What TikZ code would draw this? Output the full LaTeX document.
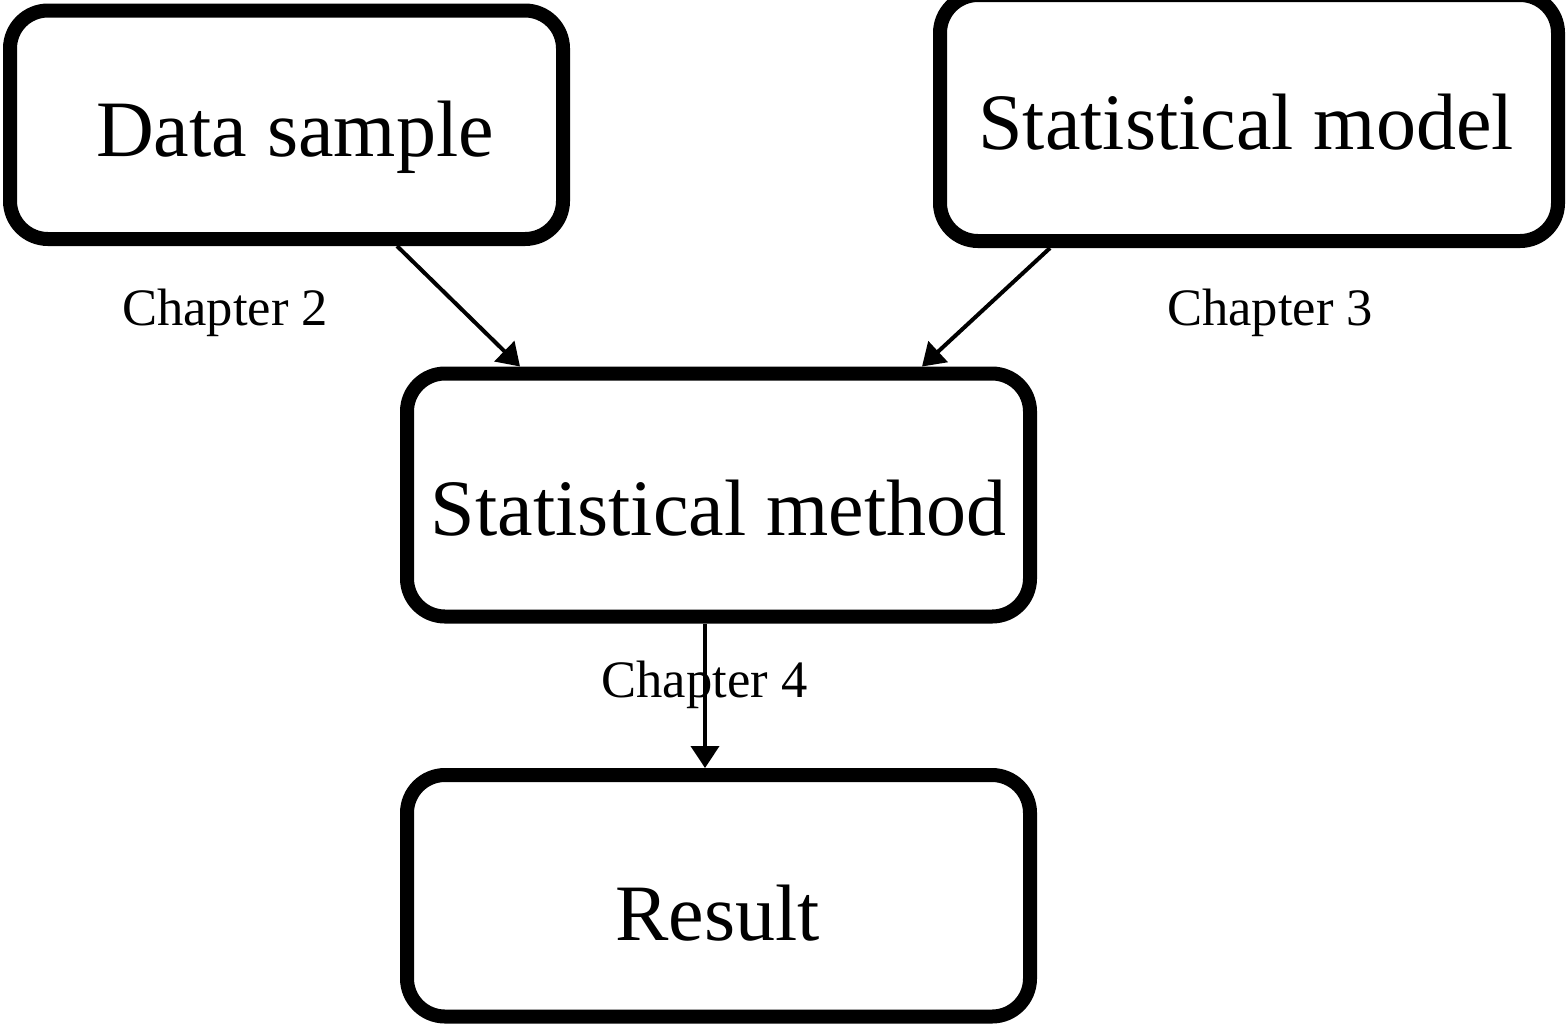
\documentclass[tikz,border=0pt]{standalone}
\usepackage{fontspec}
\setmainfont{Liberation Serif}
\usetikzlibrary{arrows.meta}
\tikzset{
  box/.style={draw=black, line width=7pt, rounded corners=19pt, inner sep=0pt, fill=none},
  bigtext/.style={anchor=base, inner sep=0pt, font=\fontsize{40}{40}\selectfont},
  chaptext/.style={anchor=base, inner sep=0pt, font=\fontsize{26.3}{26.3}\selectfont},
  arr/.style={-{Triangle[length=11pt,width=14pt]}, line width=2pt, shorten >=0pt}
}
\begin{document}
\begin{tikzpicture}[x=0.5pt,y=-0.5pt]
\clip (0,0) rectangle (1566,1024);
\fill[white] (0,0) rectangle (1566,1024);
% boxes
\node[box, minimum width=276.5pt, minimum height=114.25pt] (ds) at (286.5,124.75) {};
\node[box, minimum width=309pt, minimum height=123pt] (sm) at (1249,118) {};
\node[box, minimum width=311.5pt, minimum height=121.5pt] (meth) at (718.5,495) {};
\node[box, minimum width=311.5pt, minimum height=120.75pt] (res) at (718.5,895.75) {};
% box texts
\node[bigtext] (dst) at (295,156) {Data sample};
\node[bigtext] (smt) at (1246,149) {Statistical model};
\node[bigtext] (metht) at (718.5,535) {Statistical method};
\node[bigtext] (rest) at (717.5,940) {Result};
% chapter labels
\node[chaptext] (c2) at (225,325) {Chapter 2};
\node[chaptext] (c3) at (1270,325) {Chapter 3};
\node[chaptext] (c4) at (704.5,697) {Chapter 4};
% connectors
\draw[arr] (397,0 |- ds.south) -- (520,0 |- meth.north);
\draw[arr] (1050,0 |- sm.south) -- (922,0 |- meth.north);
\draw[arr] (705,0 |- meth.south) -- (705,0 |- res.north);
\end{tikzpicture}
\end{document}
